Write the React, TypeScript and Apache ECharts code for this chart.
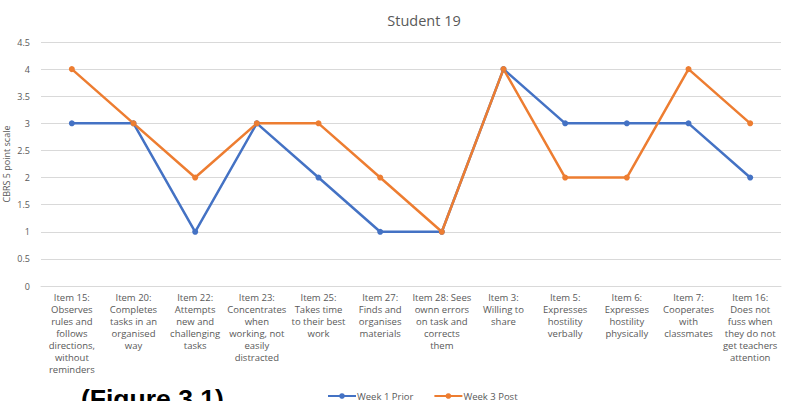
import React, { useEffect, useRef } from "react";
import * as echarts from "echarts";

const categories: string[] = [
  "Item 15:\nObserves\nrules and\nfollows\ndirections,\nwithout\nreminders",
  "Item 20:\nCompletes\ntasks in an\norganised\nway",
  "Item 22:\nAttempts\nnew and\nchallenging\ntasks",
  "Item 23:\nConcentrates\nwhen\nworking, not\neasily\ndistracted",
  "Item 25:\nTakes time\nto their best\nwork",
  "Item 27:\nFinds and\norganises\nmaterials",
  "Item 28: Sees\nownn errors\non task and\ncorrects\nthem",
  "Item 3:\nWilling to\nshare",
  "Item 5:\nExpresses\nhostility\nverbally",
  "Item 6:\nExpresses\nhostility\nphysically",
  "Item 7:\nCooperates\nwith\nclassmates",
  "Item 16:\nDoes not\nfuss when\nthey do not\nget teachers\nattention",
];

const week1Prior: number[] = [3, 3, 1, 3, 2, 1, 1, 4, 3, 3, 3, 2];
const week3Post: number[] = [4, 3, 2, 3, 3, 2, 1, 4, 2, 2, 4, 3];

const seriesNames: string[] = ["Week 1 Prior", "Week 3 Post"];
const chartTitle = "Student 19";
const yAxisTitle = "CBRS 5 point scale";
const figureCaption = "(Figure 3.1)";

const FONT = "'Open Sans', 'Noto Sans', sans-serif";
const GREY = "#595959";

export default function App() {
  const ref = useRef<HTMLDivElement>(null);

  useEffect(() => {
    if (!ref.current) return;
    const chart = echarts.init(ref.current, undefined, { renderer: "svg" });
    chart.setOption({
      animation: false,
      backgroundColor: "#ffffff",
      color: ["#4472C4", "#ED7D31"],
      title: {
        text: chartTitle,
        left: 419,
        top: 8,
        textAlign: "center",
        textStyle: { fontFamily: FONT, fontSize: 14.5, fontWeight: "normal", color: GREY },
      },
      legend: {
        data: seriesNames,
        left: 322,
        top: 386,
        itemWidth: 28,
        itemHeight: 7,
        itemGap: 20,
        textStyle: { fontFamily: FONT, fontSize: 9.5, color: GREY, padding: [0, 0, 0, -4] },
      },
      grid: {
        left: 41,
        right: 19,
        top: 42,
        bottom: 115,
        containLabel: false,
        outerBoundsMode: "none",
      },
      xAxis: {
        type: "category",
        data: categories,
        boundaryGap: true,
        axisLine: { show: true, lineStyle: { color: "#d9d9d9", width: 1 } },
        axisTick: { show: false },
        axisLabel: {
          interval: 0,
          fontFamily: FONT,
          fontSize: 9.5,
          lineHeight: 12,
          color: GREY,
          margin: 5,
          align: "center",
        },
      },
      yAxis: {
        type: "value",
        min: 0,
        max: 4.5,
        interval: 0.5,
        name: yAxisTitle,
        nameLocation: "middle",
        nameGap: 30,
        nameMoveOverlap: false,
        nameTextStyle: { fontFamily: FONT, fontSize: 9, color: GREY },
        axisLine: { show: false },
        axisTick: { show: false },
        axisLabel: { fontFamily: FONT, fontSize: 9, color: GREY, margin: 11 },
        splitLine: { lineStyle: { color: "#d9d9d9", width: 1 } },
      },
      series: [
        {
          name: seriesNames[0],
          type: "line",
          data: week1Prior,
          symbol: "circle",
          symbolSize: 6,
          lineStyle: { width: 2.5 },
        },
        {
          name: seriesNames[1],
          type: "line",
          data: week3Post,
          symbol: "circle",
          symbolSize: 6,
          lineStyle: { width: 2.5 },
        },
      ],
      graphic: [
        {
          type: "text",
          left: 81,
          top: 385,
          style: {
            text: figureCaption,
            font: "bold 26.5px 'Liberation Sans', Arial, sans-serif",
            fill: "#000000",
          },
        },
      ],
    });
    return () => chart.dispose();
  }, []);

  return <div ref={ref} style={{ width: 800, height: 401, position: "absolute", left: 0, top: 0 }} />;
}
